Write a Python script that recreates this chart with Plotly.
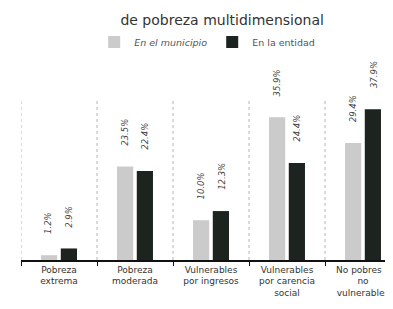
import plotly.graph_objects as go

categories = ["Pobreza<br>extrema", "Pobreza<br>moderada", "Vulnerables<br>por ingresos",
              "Vulnerables<br>por carencia<br>social", "No pobres y<br>no<br>vulnerables"]
municipio = [1.2, 23.5, 10.0, 35.9, 29.4]
entidad = [2.9, 22.4, 12.3, 24.4, 37.9]
series_names = ["<i>En el municipio</i>", "En la entidad"]
title_text = "de pobreza multidimensional"

LIGHT = "#cbcbcb"
DARK = "#1d231e"
FONT = "'DejaVu Sans', sans-serif"

fig = go.Figure()
fig.add_trace(go.Bar(x=categories, y=municipio, name=series_names[0],
                     marker=dict(color=LIGHT, line=dict(width=0))))
fig.add_trace(go.Bar(x=categories, y=entidad, name=series_names[1],
                     marker=dict(color=DARK, line=dict(width=0))))

annotations = []
for i, cat in enumerate(categories):
    for vals, shift in ((municipio, -10.3), (entidad, 10.3)):
        annotations.append(dict(
            x=cat, y=vals[i], xref="x", yref="y", xshift=shift, yshift=19,
            text=f"{vals[i]:.1f}%", textangle=-90, showarrow=False,
            xanchor="center", yanchor="bottom",
            font=dict(family=FONT, size=8.5, color="#444", style="italic")))

shapes = []
for i in range(len(categories)):
    shapes.append(dict(type="line", xref="x", yref="y", x0=i - 0.5, x1=i - 0.5,
                       y0=0, y1=40, line=dict(color="#b5b5b5", width=1, dash="dot"),
                       layer="below"))

fig.update_layout(
    width=393, height=309,
    margin=dict(l=13, r=0, t=73, b=57),
    paper_bgcolor="white", plot_bgcolor="white",
    barmode="group", bargap=0.48, bargroupgap=0.18,
    title=dict(text=title_text, x=0.545, xanchor="center", y=0.962, yanchor="middle",
               font=dict(family=FONT, size=14, color="#333")),
    legend=dict(orientation="h", x=0.49, xanchor="center", y=1.218, yanchor="middle",
                font=dict(family=FONT, size=9.5, color="#555"),
                itemwidth=30, bgcolor="rgba(0,0,0,0)"),
    annotations=annotations,
    shapes=shapes,
    font=dict(family=FONT),
)
fig.update_xaxes(range=[-0.5, 4.5], showline=True, linecolor="#111", linewidth=1.5,
                 ticks="outside", tickson="boundaries", ticklen=4, tickcolor="#111",
                 tickfont=dict(family=FONT, size=9, color="#333"), showgrid=False,
                 tickangle=0)
fig.update_yaxes(range=[0, 45], visible=False, showgrid=False, zeroline=False)

fig.write_html("out.html")
